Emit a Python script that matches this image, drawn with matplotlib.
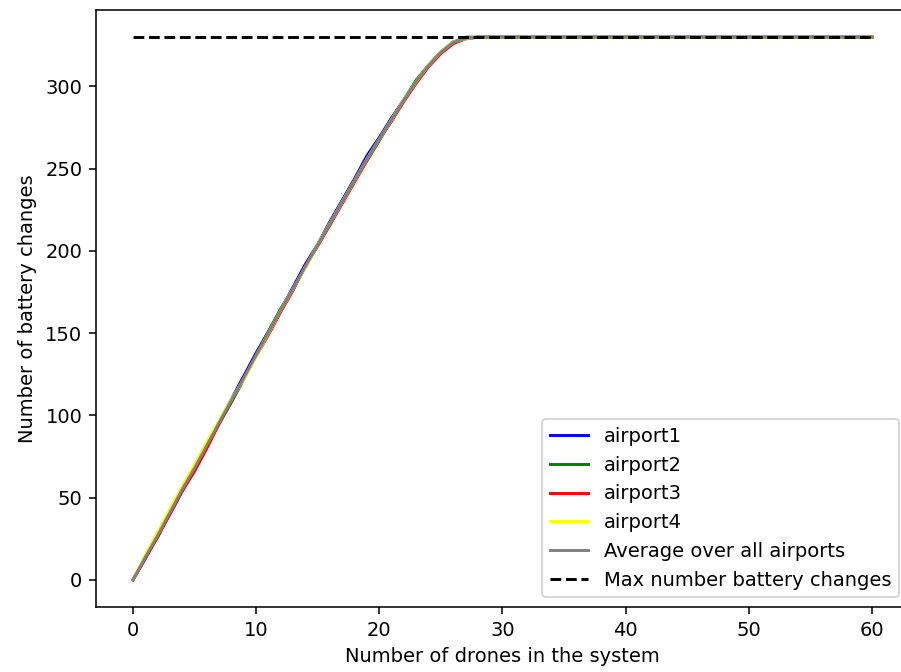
import numpy as np
import matplotlib
matplotlib.use("Agg")
import matplotlib.pyplot as plt

# Battery changes per airport for 0..60 drones in the system
drones = list(range(0, 61))

airport1 = [0, 13, 27, 40, 54, 67, 81, 96, 110, 124, 138, 151, 164, 178, 192, 204, 218, 231, 244, 258,
            269, 281, 292, 303, 313, 321, 327, 329, 330, 330, 330, 330, 330, 330, 330, 330, 330, 330, 330, 330,
            330, 330, 330, 330, 330, 330, 330, 330, 330, 330, 330, 330, 330, 330, 330, 330, 330, 330, 330, 330, 330]
airport2 = [0, 14, 26, 41, 55, 69, 82, 95, 108, 122, 137, 151, 165, 177, 190, 204, 216, 230, 243, 255,
            267, 280, 292, 304, 313, 321, 327, 330, 330, 330, 330, 330, 330, 330, 330, 330, 330, 330, 330, 330,
            330, 330, 330, 330, 330, 330, 330, 330, 330, 330, 330, 330, 330, 330, 330, 330, 330, 330, 330, 330, 330]
airport3 = [0, 13, 26, 40, 54, 66, 80, 95, 109, 123, 136, 149, 163, 176, 191, 203, 216, 229, 242, 255,
            268, 279, 291, 302, 312, 320, 326, 329, 330, 330, 330, 330, 330, 330, 330, 330, 330, 330, 330, 330,
            330, 330, 330, 330, 330, 330, 330, 330, 330, 330, 330, 330, 330, 330, 330, 330, 330, 330, 330, 330, 330]
airport4 = [0, 15, 29, 43, 57, 70, 84, 97, 110, 122, 136, 150, 164, 177, 190, 204, 217, 230, 243, 256,
            268, 280, 292, 303, 313, 321, 327, 329, 330, 330, 330, 330, 330, 330, 330, 330, 330, 330, 330, 330,
            330, 330, 330, 330, 330, 330, 330, 330, 330, 330, 330, 330, 330, 330, 330, 330, 330, 330, 330, 330, 330]

max_changes = 330

average = np.mean([airport1, airport2, airport3, airport4], axis=0)

fig = plt.figure(figsize=(901 / 140, 672 / 140), dpi=140)
ax = fig.add_axes([96 / 901, 65 / 672, 813 / 901, 597 / 672])

ax.plot(drones, airport1, color="blue", label="airport1")
ax.plot(drones, airport2, color="green", label="airport2")
ax.plot(drones, airport3, color="red", label="airport3")
ax.plot(drones, airport4, color="yellow", label="airport4")
ax.plot(drones, average, color="grey", label="Average over all airports")
ax.plot([drones[0], drones[-1]], [max_changes, max_changes], "k--", label="Max number battery changes")

ax.set_xlabel("Number of drones in the system")
ax.set_ylabel("Number of battery changes")
ax.legend(loc="lower right")

fig.savefig("out.png", dpi=140)
